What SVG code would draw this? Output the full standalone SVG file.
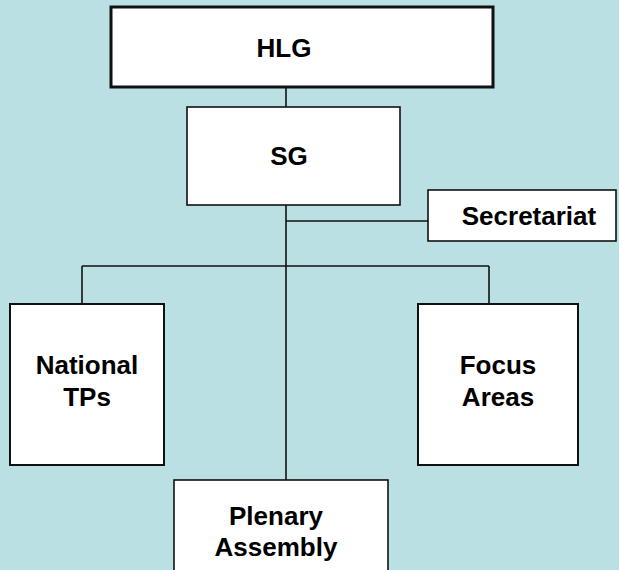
<svg xmlns="http://www.w3.org/2000/svg" width="619" height="570" viewBox="0 0 619 570">
<style>
.box{fill:#ffffff;stroke:#111111;stroke-width:2}
.lbl{font-family:"Liberation Sans",Arial,sans-serif;font-weight:bold;font-size:26px;fill:#000;text-anchor:middle}
.conn{stroke:#111111;stroke-width:1.6;fill:none}
</style>
<rect width="619" height="570" fill="#bbe0e3"/>
<g id="connectors">
<path class="conn" d="M286 87V107"/>
<path class="conn" d="M286 205V480"/>
<path class="conn" d="M286 221H428"/>
<path class="conn" d="M82 266H489"/>
<path class="conn" d="M82 266V304"/>
<path class="conn" d="M489 266V304"/>
</g>
<g id="hlg">
<rect class="box" x="111" y="7" width="382" height="80" style="stroke-width:3"/>
<text class="lbl" x="284" y="57">HLG</text>
</g>
<g id="sg">
<rect class="box" x="187" y="107" width="213" height="98" style="stroke-width:1.6"/>
<text class="lbl" x="289" y="165">SG</text>
</g>
<g id="secretariat">
<rect class="box" x="428" y="190" width="188" height="51" style="stroke-width:1.6"/>
<text class="lbl" x="529" y="225">Secretariat</text>
</g>
<g id="national-tps">
<rect class="box" x="10" y="304" width="154" height="161"/>
<text class="lbl" x="87" y="374">National</text>
<text class="lbl" x="87" y="406">TPs</text>
</g>
<g id="focus-areas">
<rect class="box" x="418" y="304" width="160" height="161"/>
<text class="lbl" x="498" y="374">Focus</text>
<text class="lbl" x="498" y="406">Areas</text>
</g>
<g id="plenary-assembly">
<rect class="box" x="174" y="480" width="214" height="100" style="stroke-width:1.6"/>
<text class="lbl" x="276" y="525">Plenary</text>
<text class="lbl" x="276" y="556">Assembly</text>
</g>
</svg>
